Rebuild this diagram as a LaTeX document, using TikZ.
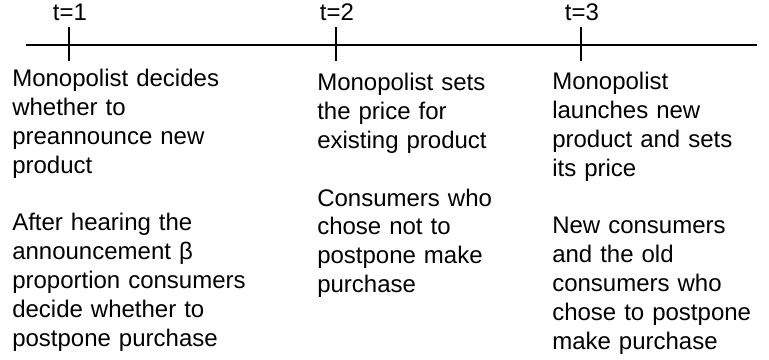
\documentclass[tikz,border=0pt]{standalone}
\usepackage{fontspec}
\setmainfont{Liberation Sans}

\begin{document}
\begin{tikzpicture}[x=.75pt,y=-.75pt,
 every node/.style={font=\fontsize{18}{21.6}\selectfont,inner sep=0pt},
 axis/.style={draw=black,line width=1.5pt},
 period/.style={anchor=base},
 stage/.style={anchor=base west,align=left,text width=200pt}]
\useasboundingbox (0,0) rectangle (769,360);
% time axis
\coordinate (axisL) at (26,45);
\coordinate (axisR) at (757,45);
\draw[axis] (axisL) -- (axisR);
% ticks and period labels
\foreach \x/\n in {69/1,336/2,581/3}{
 \coordinate (top\n) at (\x,27);
 \coordinate (bot\n) at (\x,61);
 \draw[axis] (top\n) -- (bot\n);
 \node[period] (t\n) at (\x+1,21) {t=\n};
}
% what happens in each period
\node[stage] (first) at (12,87)
 {Monopolist decides\\whether to\\preannounce new\\product\\[21.6pt]
  After hearing the\\announcement β\\proportion consumers\\decide whether to\\postpone purchase};
\node[stage] (second) at (317,91)
 {Monopolist sets\\the price for\\existing product\\[21.6pt]
  Consumers who\\chose not to\\postpone make\\purchase};
\node[stage] (third) at (552,90)
 {Monopolist\\launches new\\product and sets\\its price\\[21.6pt]
  New consumers\\and the old\\consumers who\\chose to postpone\\make purchase};
\end{tikzpicture}
\end{document}
